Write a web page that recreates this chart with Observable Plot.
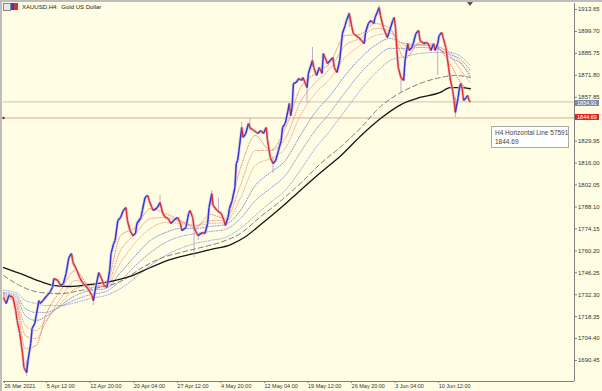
<!DOCTYPE html>
<html><head><meta charset="utf-8">
<script src="https://cdn.jsdelivr.net/npm/d3@7"></script>
<script src="https://cdn.jsdelivr.net/npm/@observablehq/plot@0.6"></script>
<style>
html,body{margin:0;padding:0;background:#fffee5;}
#wrap{position:relative;width:602px;height:391px;overflow:hidden;background:#fffee5;font-family:"Liberation Sans",Arial,sans-serif;}
#wrap svg{position:absolute;left:0;top:0;}
.abs{position:absolute;}
.tag{position:absolute;left:575px;width:24px;height:6px;line-height:6px;font-size:5.5px;color:#fff;text-align:center;}
</style></head><body><div id="wrap"></div>
<script>
// ---- data (H4 bars: index since 26 Mar 2021, close prices) ----
const bars = [
0,2,4,7,9,10,12,14,15,17,
18,20,21,23,26,27,29,32,34,36,
37,40,42,44,46,48,50,51,54,56,
58,60,62,65,66,68,70,72,74,76,
78,79,81,82,84,86,88,90,91,93,
95,97,98,101,102,104,106,107,109,110,
113,115,117,119,121,123,125,128,130,131,
134,136,137,139,140,142,143,146,148,150,
151,153,154,157,160,162,163,165,166,168,
170,171,172,173,175,176,178,180,181,184,
187,189,191,193,194,196,198,200,202,204,
205,207,209,210,211,212,213,215,217,219,
220,223,224,227,228,230,232,234,235,238,
240,242,243,245,247,249,251,252,254,256,
257,259,261,263,265,266,268,270,272,273,
276,277,279,282,283,286,287,288,289,290,
292,294,295,297,298,300,301,303,305,306,
309,310,312,314,316,317,319,320,322,323,
325,326,327,328,330,331,332,334,335,336,
337,338,340,341,342,343];
const closes = [
1730.5,1726.7,1731.8,1730.5,1722.2,1715.9,1707.6,1694.9,1686.0,1682.8,
1690.5,1701.3,1710.8,1714.0,1728.6,1726.7,1728.6,1731.8,1733.7,1736.9,
1742.6,1741.3,1738.1,1739.4,1745.8,1755.9,1758.5,1752.8,1747.7,1743.2,
1740.1,1738.1,1736.2,1731.8,1728.6,1738.1,1746.4,1742.6,1738.1,1736.9,
1747.7,1758.5,1764.9,1766.8,1779.5,1781.4,1785.8,1787.7,1779.5,1773.1,
1769.9,1771.2,1777.6,1781.4,1785.8,1794.1,1795.4,1792.2,1787.7,1785.8,
1787.7,1790.9,1783.9,1781.4,1780.7,1777.6,1779.5,1781.4,1777.6,1773.1,
1775.0,1783.9,1785.8,1781.4,1775.0,1771.2,1769.9,1771.8,1771.2,1777.6,
1787.7,1796.6,1789.0,1785.8,1783.9,1779.5,1776.3,1781.4,1787.1,1792.2,
1800.5,1815.7,1817.6,1824.0,1838.6,1832.3,1834.8,1841.2,1838.6,1836.7,
1834.8,1836.7,1834.8,1838.6,1830.3,1819.5,1815.7,1817.6,1824.0,1830.3,
1838.6,1841.2,1849.4,1853.9,1846.2,1851.3,1866.6,1867.2,1869.8,1868.5,
1870.4,1864.0,1873.0,1881.2,1876.8,1871.7,1876.8,1873.0,1885.7,1879.3,
1881.2,1883.1,1876.8,1873.6,1881.2,1898.4,1903.5,1906.7,1911.1,1902.2,
1898.4,1897.1,1895.8,1893.9,1892.0,1899.0,1904.7,1906.7,1904.7,1908.6,
1914.9,1909.8,1902.2,1895.8,1898.4,1906.7,1908.6,1902.2,1887.6,1876.8,
1870.4,1868.5,1881.2,1892.0,1887.6,1889.5,1892.0,1898.4,1900.3,1893.9,
1892.0,1892.7,1892.0,1887.6,1892.0,1887.6,1892.0,1897.1,1899.0,1895.8,
1889.5,1883.1,1876.8,1870.4,1862.1,1855.8,1848.2,1857.7,1864.0,1866.6,
1863.4,1855.8,1857.7,1859.0,1855.8,1854.9];

const wickBars  = [17,66,115,140,143,153,158,175,181,198,223,227,254,276,292,319,332];
const wickLows  = [1680.3,1725.4,1789.0,1755.9,1766.8,1789.0,1785.0,1832.3,1836.7,1809.4,1853.9,1876.8,1902.2,1909.8,1860.2,1871.7,1845.0];
const wickHighs = [1690.5,1730.5,1795.4,1775.0,1771.2,1798.5,1793.5,1841.8,1844.3,1819.5,1864.0,1889.5,1911.7,1916.2,1870.4,1892.0,1857.7];

// moving-average ribbon (short group red, long group blue)
const ribbonBars = [0,9,16,24,31,42,53,64,75,86,97,108,119,130,141,152,163,174,185,196,207,218,229,240,251,262,273,284,295,306,317,328,336,343];
const ribR1 = [1731.1,1726.7,1698.1,1700.0,1719.1,1735.0,1747.7,1736.9,1738.1,1769.9,1775.0,1787.1,1783.9,1779.5,1775.0,1783.3,1780.7,1812.5,1833.5,1824.0,1838.0,1863.4,1873.0,1879.9,1897.1,1897.8,1904.7,1901.6,1882.5,1892.7,1890.8,1879.3,1867.2,1862.1];
const ribR2 = [1731.8,1728.6,1706.3,1704.4,1714.6,1729.9,1741.3,1738.8,1738.1,1760.4,1771.2,1780.7,1781.4,1778.8,1776.3,1779.5,1779.5,1801.7,1824.0,1824.0,1831.6,1854.5,1867.2,1876.1,1890.8,1895.2,1901.6,1900.3,1887.6,1891.4,1890.8,1884.4,1874.9,1867.2];
const ribR3 = [1732.4,1729.9,1712.7,1709.5,1715.9,1726.7,1736.2,1738.1,1737.5,1752.8,1765.5,1774.4,1778.2,1777.6,1776.3,1777.6,1778.2,1793.5,1814.5,1818.9,1825.3,1846.2,1860.2,1869.8,1883.1,1890.8,1897.1,1898.4,1890.8,1890.8,1890.1,1886.3,1879.9,1872.3];
const ribB1 = [1733.0,1731.1,1719.1,1715.9,1718.4,1725.4,1731.8,1735.0,1736.2,1746.4,1757.2,1766.8,1771.8,1774.4,1774.4,1775.7,1776.9,1785.8,1801.7,1810.0,1817.6,1833.5,1848.2,1859.0,1871.7,1882.5,1890.8,1895.2,1892.0,1891.4,1890.1,1883.1,1879.3,1871.0];
const ribB2 = [1733.7,1732.4,1723.5,1721.0,1721.0,1724.8,1729.2,1732.4,1734.3,1741.3,1750.9,1759.1,1765.5,1769.3,1771.2,1772.5,1773.8,1780.7,1792.2,1799.8,1808.1,1822.7,1836.7,1848.2,1860.9,1873.0,1882.5,1888.9,1888.9,1889.5,1888.9,1885.0,1881.9,1874.9];
const ribB3 = [1735.0,1733.7,1728.6,1726.7,1725.4,1725.4,1727.3,1729.9,1731.8,1736.2,1743.2,1750.9,1757.2,1761.7,1764.9,1766.8,1768.7,1774.4,1782.7,1790.9,1798.6,1811.3,1825.3,1836.7,1849.4,1862.1,1873.0,1881.2,1883.8,1885.7,1886.3,1886.3,1883.8,1878.0];

// long moving averages
const maBars = [0,12,27,38,49,64,79,93,108,123,137,152,167,178,189,204,218,233,248,262,277,292,306,321,328,336,343];
const maSlow = [1749.6,1745.8,1740.7,1738.1,1737.5,1738.8,1740.7,1743.9,1749.6,1754.7,1757.9,1761.0,1764.2,1769.3,1776.9,1787.7,1798.6,1810.0,1820.8,1832.9,1844.3,1853.2,1857.7,1860.9,1864.0,1864.0,1863.4];
const dashBars = [0,12,27,42,57,71,86,101,115,130,145,159,174,189,204,218,233,248,262,277,292,306,321,332,343];
const maDashed = [1744.5,1738.1,1733.7,1733.0,1735.0,1736.9,1740.7,1749.0,1755.3,1759.1,1762.3,1765.5,1771.2,1782.0,1792.2,1803.0,1815.7,1826.5,1838.0,1852.0,1860.9,1866.6,1870.4,1871.7,1870.4];

const lastPrice = 1854.91;
const hLinePrice = 1844.69;
const yTicks = [1913.65,1899.70,1885.75,1871.80,1857.85,1829.95,1816.00,1802.05,1788.10,1774.15,1760.20,1746.25,1732.30,1718.35,1704.40,1690.45];
const xTickBars = [0,31,63,95,127,159,191,223,255,287,319];
const xTickLabels = ["26 Mar 2021","5 Apr 12:00","12 Apr 20:00","20 Apr 04:00","27 Apr 12:00","4 May 20:00","12 May 04:00","19 May 12:00","26 May 20:00","3 Jun 04:00","10 Jun 12:00"];
const xMax = 419.5, yMin = 1677.1, yMax = 1917.47;

// ---- build ----
const candles = bars.map((b,i)=>({bar:b, close:closes[i]}));
const segs = candles.slice(1).map((d,i)=>({x1:candles[i].bar, y1:candles[i].close, x2:d.bar, y2:d.close, up:d.close>=candles[i].close}));
const wicks = wickBars.map((b,i)=>({bar:b, low:wickLows[i], high:wickHighs[i]}));
const ribbons = [
  {vals:ribB3, color:"#8fa0dc"},{vals:ribB2, color:"#7f90d6"},{vals:ribB1, color:"#7385d2"},
  {vals:ribR3, color:"#eba08e"},{vals:ribR2, color:"#e8907c"},{vals:ribR1, color:"#e47c66"}
];
const lab = new Map(xTickBars.map((b,i)=>[b,xTickLabels[i]]));

const plot = Plot.plot({
  width:602, height:391,
  marginLeft:3, marginRight:28, marginTop:3, marginBottom:10,
  x:{domain:[0,xMax], axis:null},
  y:{domain:[yMin,yMax], axis:null},
  style:{background:"transparent", fontFamily:"'Liberation Sans',Arial,sans-serif", overflow:"visible"},
  marks:[
    Plot.ruleY([lastPrice],{stroke:"#cdc4aa", strokeWidth:1}),
    Plot.ruleY([hLinePrice],{stroke:"#e2a493", strokeWidth:1}),
    ...ribbons.map(r=>Plot.line(ribbonBars.map((b,i)=>({bar:b, v:r.vals[i]})),{x:"bar", y:"v", stroke:r.color, strokeWidth:0.9, strokeDasharray:"1,1.5", curve:"monotone-x"})),
    Plot.line(dashBars.map((b,i)=>({bar:b,v:maDashed[i]})),{x:"bar",y:"v",stroke:"#6f6f6f",strokeWidth:0.9,strokeDasharray:"5,3",curve:"monotone-x"}),
    Plot.line(maBars.map((b,i)=>({bar:b,v:maSlow[i]})),{x:"bar",y:"v",stroke:"#151515",strokeWidth:1.3,curve:"monotone-x"}),
    Plot.link(segs,{x1:"x1",y1:"y1",x2:"x2",y2:"y2",stroke:"#dccde0",strokeWidth:3.2,strokeOpacity:0.75}),
    Plot.ruleX(wicks,{x:"bar",y1:"low",y2:"high",stroke:"#a59dc8",strokeWidth:0.8}),
    Plot.link(segs,{x1:"x1",y1:"y1",x2:"x2",y2:"y2",stroke:d=>d.up?"#3535d6":"#e6302a",strokeWidth:1.5}),
    Plot.dot([hLinePrice],{y:d=>d, frameAnchor:"left", r:1.3, fill:"#b02020", stroke:null}),
    Plot.ruleX([xMax],{stroke:"#808080"}),
    Plot.ruleY([yMin],{stroke:"#808080"}),
    Plot.axisY(yTicks,{anchor:"right", tickSize:2, tickPadding:1.5, fontSize:6, tickFormat:d=>d.toFixed(2), fill:"#333", stroke:"#808080"}),
    Plot.axisX(xTickBars,{anchor:"bottom", tickSize:2, tickPadding:1, fontSize:5.5, textAnchor:"start", dx:1, tickFormat:d=>lab.get(d), fill:"#333", stroke:"#808080"})
  ]
});
const wrap = document.getElementById("wrap");
wrap.appendChild(plot);
const yS = plot.scale("y");
function add(html, css, cls){const d=document.createElement("div");d.className=cls||"abs";d.style.cssText=css;d.innerHTML=html;wrap.appendChild(d);return d;}
// frame borders
add("","left:0;top:0;width:602px;height:2px;background:#bdbdbd;");
add("","left:0;top:0;width:2px;height:391px;background:#bdbdbd;");
// chart-shift marker
add("","left:467px;top:2px;width:0;height:0;border-left:3px solid transparent;border-right:3px solid transparent;border-top:4px solid #555;");
// title + icons
add("","left:3px;top:3px;width:6px;height:6px;background:#e8e8e8;border:1px solid #888;");
add("","left:11px;top:3px;width:7px;height:7px;background:linear-gradient(90deg,#3c3cd0 50%,#d83030 50%);");
add("XAUUSD,H4:&nbsp; Gold US Dollar","left:22px;top:3px;font-size:6px;line-height:8px;color:#222;white-space:nowrap;");
// price tags
add(lastPrice.toFixed(2),"top:"+(yS.apply(lastPrice)-1.5)+"px;background:#7e8b9b;","tag");
add(hLinePrice.toFixed(2),"top:"+(yS.apply(hLinePrice)-3)+"px;background:#e5231b;","tag");
// tooltip
add("H4 Horizontal Line 57591<br>"+hLinePrice.toFixed(2),"left:491px;top:"+(yS.apply(hLinePrice)+9)+"px;width:70px;padding:1px 3px;font-size:6.5px;line-height:9px;color:#444;background:#fff;border:1px solid #a8a8a8;white-space:nowrap;");
</script></body></html>
